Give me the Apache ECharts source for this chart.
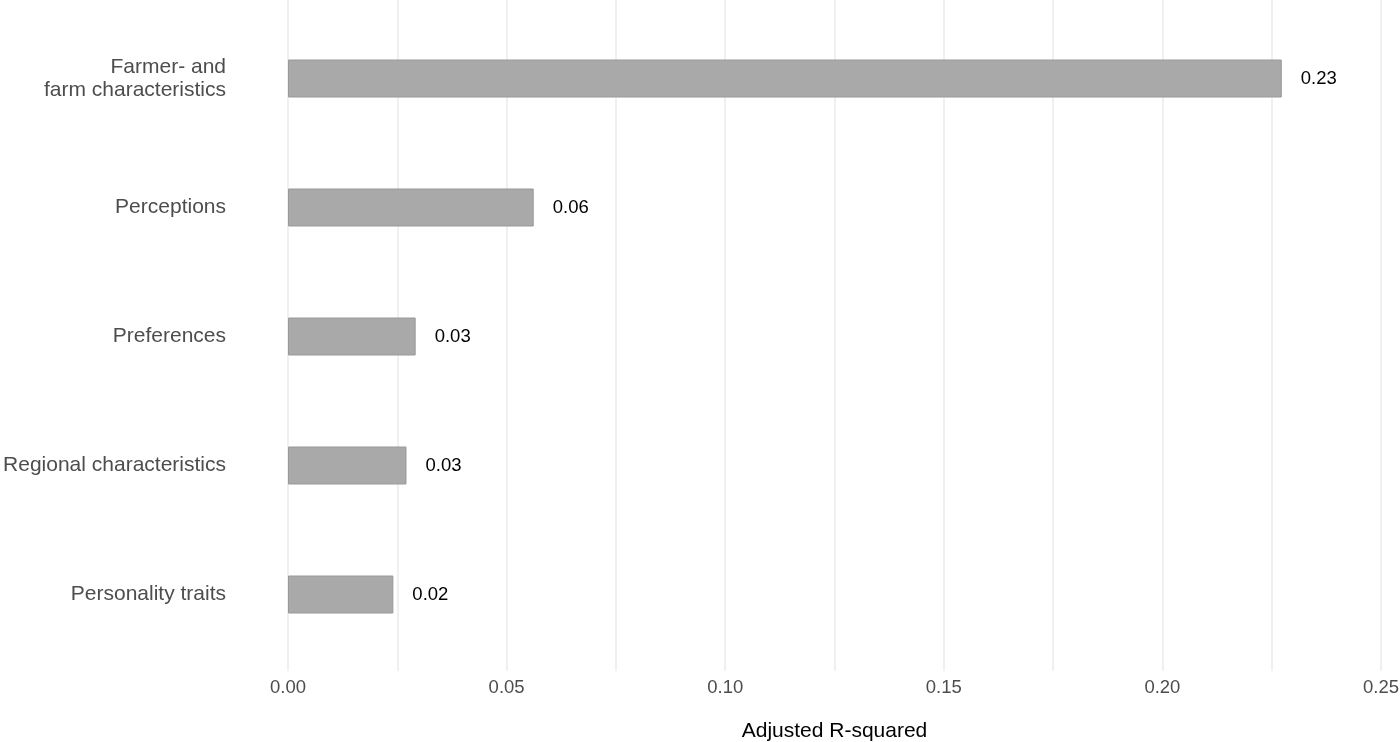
<!DOCTYPE html>
<html><head><meta charset="utf-8">
<script src="https://cdn.jsdelivr.net/npm/echarts@6/dist/echarts.min.js"></script>
<style>html,body{margin:0;padding:0;background:#fff}#c{width:1400px;height:742px}</style>
</head><body><div id="c"></div>
<script>
const categories = ["Farmer- and\nfarm characteristics","Perceptions","Preferences","Regional characteristics","Personality traits"];
const values = [0.2273,0.0562,0.0292,0.0271,0.0241];
const labels = ["0.23","0.06","0.03","0.03","0.02"];
const xTicks = [0,0.05,0.10,0.15,0.20,0.25];

const chart = echarts.init(document.getElementById('c'));
const font = 'Liberation Sans, Arial, sans-serif';
chart.setOption({
  animation:false,
  grid:[
    {left:288,right:19,top:0,bottom:71,outerBoundsMode:'none'},
    {left:288,right:19,top:14,bottom:83,outerBoundsMode:'none'}
  ],
  xAxis:[
    {gridIndex:0,type:'value',min:0,max:0.25,interval:0.025,
     axisLine:{show:false},axisTick:{show:false},axisLabel:{show:false},
     splitLine:{show:true,lineStyle:{color:'#ebebeb',width:1.5}}},
    {gridIndex:1,type:'value',min:0,max:0.25,interval:0.05,
     axisLine:{show:false},axisTick:{show:false},splitLine:{show:false},
     axisLabel:{color:'#4d4d4d',fontSize:18.5,fontFamily:font,margin:19,
       formatter:v=>v.toFixed(2)},
     name:'Adjusted R-squared',nameLocation:'middle',nameGap:62,
     nameTextStyle:{color:'#000',fontSize:21,fontFamily:font}}
  ],
  yAxis:[
    {gridIndex:0,type:'value',show:false},
    {gridIndex:1,type:'category',data:categories,inverse:true,
     axisLine:{show:false},axisTick:{show:false},splitLine:{show:false},
     axisLabel:{color:'#4d4d4d',fontSize:21,fontFamily:font,margin:62,align:'right',lineHeight:23}}
  ],
  series:[{
    type:'bar',xAxisIndex:1,yAxisIndex:1,
    data:values,barWidth:38,
    itemStyle:{color:'#a9a9a9',borderColor:'#999999',borderWidth:1},
    label:{show:true,position:'right',distance:19,color:'#000',fontSize:18.5,fontFamily:font,
      formatter:p=>labels[p.dataIndex]}
  }]
});
</script></body></html>
